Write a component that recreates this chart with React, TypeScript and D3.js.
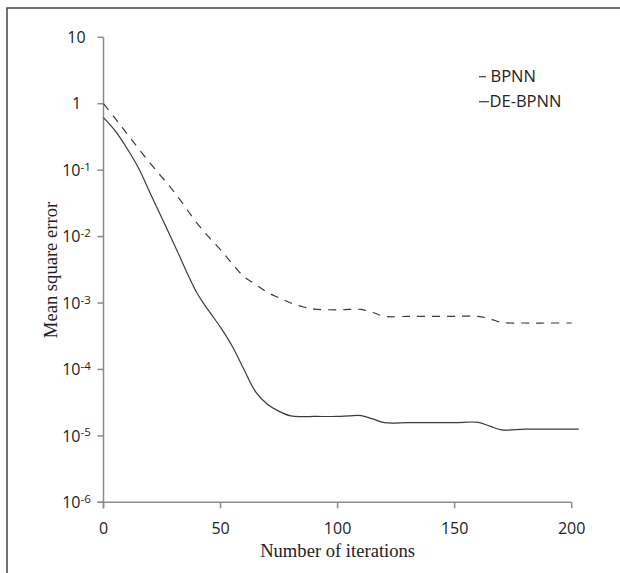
import React from "react";
import * as d3 from "d3";

const iterations = [0, 5, 10, 20, 30, 40, 45, 50, 55, 60, 65, 70, 75, 80, 85, 90, 100, 105, 110, 115, 120, 130, 140, 150, 160, 165, 170, 180, 190, 200];
const bpnn = [1.0, 0.6, 0.355, 0.126, 0.048, 0.0158, 0.0098, 0.0063, 0.0039, 0.0025, 0.0019, 0.00145, 0.0012, 0.001, 0.00088, 0.00081, 0.00079, 0.0008, 0.0008, 0.00072, 0.00063, 0.00063, 0.00063, 0.00063, 0.00063, 0.00058, 0.00051, 0.0005, 0.0005, 0.0005];

const deIterations = [0, 5, 10, 15, 20, 30, 40, 45, 50, 55, 60, 65, 70, 75, 80, 85, 90, 100, 105, 110, 115, 120, 130, 140, 150, 160, 165, 170, 180, 190, 203];
const debpnn = [0.617, 0.39, 0.214, 0.107, 0.0447, 0.0079, 0.0014, 0.00076, 0.00043, 0.000224, 0.0001, 0.000046, 0.00003, 0.0000234, 0.00002, 0.0000195, 0.0000196, 0.0000196, 0.00002, 0.0000202, 0.000018, 0.0000158, 0.0000158, 0.0000158, 0.0000158, 0.000016, 0.000014, 0.0000123, 0.0000126, 0.0000126, 0.0000126];

const xTicks = [0, 50, 100, 150, 200];
const yTicks = [10, 1, 1e-1, 1e-2, 1e-3, 1e-4, 1e-5, 1e-6];
const yTickLabels: [string, string][] = [["10", ""], ["1", ""], ["10", "-1"], ["10", "-2"], ["10", "-3"], ["10", "-4"], ["10", "-5"], ["10", "-6"]];
const seriesNames = ["BPNN", "DE-BPNN"];

export default function App() {
  const x = d3.scaleLinear().domain([0, 200]).range([103.5, 571.7]);
  const y = d3.scaleLog().domain([1e-6, 10]).range([502.3, 37.3]);
  const line = d3
    .line<[number, number]>()
    .x((d) => x(d[0]))
    .y((d) => y(d[1]))
    .curve(d3.curveCatmullRom.alpha(0.5));
  const bpPath = line(iterations.map((it, i) => [it, bpnn[i]]) as [number, number][]) || "";
  const dePath = line(deIterations.map((it, i) => [it, debpnn[i]]) as [number, number][]) || "";
  const axisColor = "#8a8a8a";
  const lineColor = "#3a3a3a";
  const sans = "'Open Sans', 'Liberation Sans', sans-serif";
  const serif = "'Liberation Serif', 'DejaVu Serif', serif";
  const y0 = y(1e-6);
  const x0 = x(0);
  return (
    <div style={{ position: "absolute", left: 0, top: 0 }}>
      <svg width={620} height={573} style={{ display: "block" }}>
        <rect x={0} y={0} width={620} height={573} fill="#fff" />
        <rect x={7} y={8} width={640} height={600} fill="none" stroke="#444" strokeWidth={1.5} />
        {/* y axis */}
        <line x1={x0} x2={x0} y1={y(10)} y2={y0 + 6} stroke={axisColor} strokeWidth={1.5} />
        {yTicks.map((t, i) => (
          <g key={"yt" + i}>
            <line x1={x0 - 6} x2={x0} y1={y(t)} y2={y(t)} stroke={axisColor} strokeWidth={1.5} />
            <text x={76.5} y={y(t)} dy="0.36em" textAnchor="middle" fontFamily={sans} fontSize={16} fill="#222">
              {yTickLabels[i][0]}
              {yTickLabels[i][1] ? (
                <tspan dy="-0.45em" fontSize={11.5}>
                  {yTickLabels[i][1]}
                </tspan>
              ) : null}
            </text>
          </g>
        ))}
        {/* x axis */}
        <line x1={x0 - 6} x2={x(200)} y1={y0} y2={y0} stroke={axisColor} strokeWidth={1.5} />
        {xTicks.map((t) => (
          <g key={"xt" + t}>
            <line x1={x(t)} x2={x(t)} y1={y0} y2={y0 + 6} stroke={axisColor} strokeWidth={1.5} />
            <text x={x(t)} y={534} textAnchor="middle" fontFamily={sans} fontSize={16} fill="#222">
              {t}
            </text>
          </g>
        ))}
        <text x={337.6} y={557} textAnchor="middle" fontFamily={serif} fontSize={18.6} fill="#222">
          Number of iterations
        </text>
        <text transform="translate(57,270) rotate(-90)" textAnchor="middle" fontFamily={serif} fontSize={18.6} fill="#222">
          Mean square error
        </text>
        {/* series */}
        <path d={bpPath} fill="none" stroke={lineColor} strokeWidth={1.2} strokeDasharray="8,7" />
        <path d={dePath} fill="none" stroke={lineColor} strokeWidth={1.2} />
        {/* legend */}
        <line x1={479} x2={486} y1={76.7} y2={76.7} stroke={lineColor} strokeWidth={1.2} />
        <text x={490.5} y={82} fontFamily={sans} fontSize={16.5} fill="#222">
          {seriesNames[0]}
        </text>
        <line x1={479} x2={489} y1={101.7} y2={101.7} stroke={lineColor} strokeWidth={1.2} />
        <text x={489.5} y={107} fontFamily={sans} fontSize={16.5} fill="#222">
          {seriesNames[1]}
        </text>
      </svg>
    </div>
  );
}
